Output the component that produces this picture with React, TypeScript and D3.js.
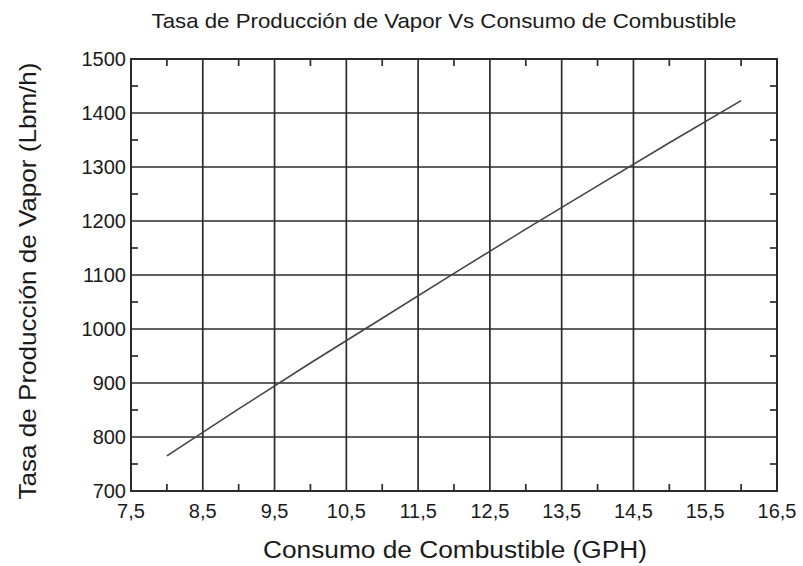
import { useEffect, useRef } from "react";
import * as d3 from "d3";

const fuelGph = [8, 9, 10, 11, 12, 13, 14, 15, 16];
const steamLbmH = [765, 852, 937, 1020, 1103, 1185, 1265, 1345, 1423];
const xTicks = [7.5, 8.5, 9.5, 10.5, 11.5, 12.5, 13.5, 14.5, 15.5, 16.5];
const xMinor = [8, 9, 10, 11, 12, 13, 14, 15, 16];
const yTicks = [700, 800, 900, 1000, 1100, 1200, 1300, 1400, 1500];
const yMinor = [750, 850, 950, 1050, 1150, 1250, 1350, 1450];

const W = 803;
const H = 566;
const margin = { left: 131, right: 26, top: 59, bottom: 75 };
const FONT = "'Liberation Sans', Arial, sans-serif";

export default function App() {
  const svgRef = useRef<SVGSVGElement>(null);

  useEffect(() => {
    if (!svgRef.current) return;
    const svg = d3.select(svgRef.current);
    svg.selectAll("*").remove();

    const x = d3.scaleLinear().domain([7.5, 16.5]).range([margin.left, W - margin.right]);
    const y = d3.scaleLinear().domain([700, 1500]).range([H - margin.bottom, margin.top]);
    const [x0, x1] = x.range();
    const [y0, y1] = y.range();

    const grid = svg.append("g").attr("stroke", "#2b2b2b").attr("stroke-width", 1.7);
    grid.selectAll("line.v")
      .data(xTicks)
      .join("line")
      .attr("class", "v")
      .attr("x1", (d) => x(d)).attr("x2", (d) => x(d))
      .attr("y1", y0).attr("y2", y1);
    grid.selectAll("line.h")
      .data(yTicks)
      .join("line")
      .attr("class", "h")
      .attr("x1", x0).attr("x2", x1)
      .attr("y1", (d) => y(d)).attr("y2", (d) => y(d));

    // minor ticks, pointing inward on all four sides
    const minor = svg.append("g").attr("stroke", "#2b2b2b").attr("stroke-width", 1.7);
    const tl = 7;
    xMinor.forEach((v) => {
      minor.append("line").attr("x1", x(v)).attr("x2", x(v)).attr("y1", y0).attr("y2", y0 - tl);
      minor.append("line").attr("x1", x(v)).attr("x2", x(v)).attr("y1", y1).attr("y2", y1 + tl);
    });
    yMinor.forEach((v) => {
      minor.append("line").attr("x1", x0).attr("x2", x0 + tl).attr("y1", y(v)).attr("y2", y(v));
      minor.append("line").attr("x1", x1).attr("x2", x1 - tl).attr("y1", y(v)).attr("y2", y(v));
    });

    // frame
    svg.append("rect")
      .attr("x", x0).attr("y", y1)
      .attr("width", x1 - x0).attr("height", y0 - y1)
      .attr("fill", "none")
      .attr("stroke", "#2b2b2b")
      .attr("stroke-width", 2);

    // data line
    const line = d3.line<number>()
      .x((_, i) => x(fuelGph[i]))
      .y((d) => y(d));
    svg.append("path")
      .attr("d", line(steamLbmH) as string)
      .attr("fill", "none")
      .attr("stroke", "#444")
      .attr("stroke-width", 1.6);

    // tick labels
    svg.append("g")
      .selectAll("text")
      .data(xTicks)
      .join("text")
      .attr("x", (d) => x(d))
      .attr("y", y0 + 27)
      .attr("text-anchor", "middle")
      .attr("font-family", FONT)
      .attr("font-size", 20)
      .attr("fill", "#1a1a1a")
      .text((d) => d.toFixed(1).replace(".", ","));

    svg.append("g")
      .selectAll("text")
      .data(yTicks)
      .join("text")
      .attr("x", x0 - 5)
      .attr("y", (d) => y(d) + 7)
      .attr("text-anchor", "end")
      .attr("font-family", FONT)
      .attr("font-size", 20)
      .attr("fill", "#1a1a1a")
      .text((d) => d);

    // titles
    svg.append("text")
      .attr("x", 444)
      .attr("y", 28)
      .attr("text-anchor", "middle")
      .attr("font-family", FONT)
      .attr("font-size", 21)
      .attr("textLength", 585)
      .attr("lengthAdjust", "spacingAndGlyphs")
      .attr("fill", "#1a1a1a")
      .text("Tasa de Producción de Vapor Vs Consumo de Combustible");

    svg.append("text")
      .attr("x", 455)
      .attr("y", 558)
      .attr("text-anchor", "middle")
      .attr("font-family", FONT)
      .attr("font-size", 23)
      .attr("textLength", 384)
      .attr("lengthAdjust", "spacingAndGlyphs")
      .attr("fill", "#1a1a1a")
      .text("Consumo de Combustible (GPH)");

    svg.append("text")
      .attr("transform", `translate(36, 281) rotate(-90)`)
      .attr("text-anchor", "middle")
      .attr("font-family", FONT)
      .attr("font-size", 24)
      .attr("textLength", 437)
      .attr("lengthAdjust", "spacingAndGlyphs")
      .attr("fill", "#1a1a1a")
      .text("Tasa de Producción de Vapor (Lbm/h)");
  }, []);

  return (
    <svg
      ref={svgRef}
      width={W}
      height={H}
      style={{ position: "absolute", left: 0, top: 0, background: "#fff" }}
    />
  );
}
